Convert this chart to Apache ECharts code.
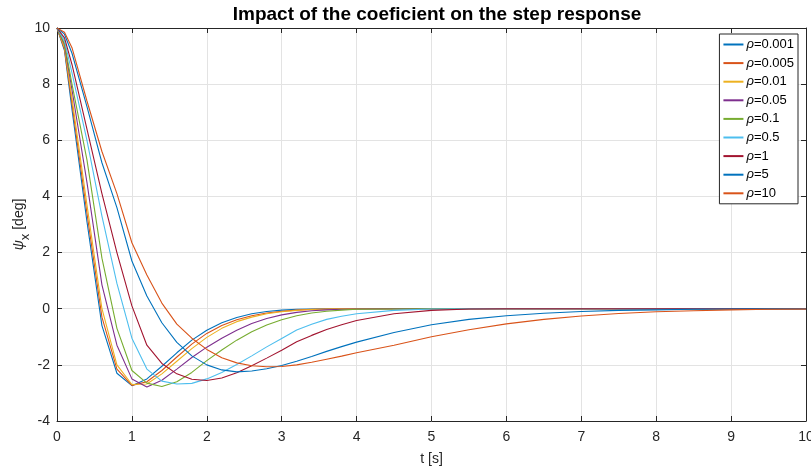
<!DOCTYPE html>
<html>
<head>
<meta charset="utf-8">
<script src="https://cdn.jsdelivr.net/npm/echarts/dist/echarts.min.js"></script>
<style>html,body{margin:0;padding:0;background:#fff}#c{width:811px;height:474px}</style>
</head>
<body>
<div id="c"></div>
<script>
// time samples [s]
const t = [0,0.1,0.2,0.4,0.6,0.8,1.0,1.2,1.4,1.6,1.8,2.0,2.2,2.4,2.6,2.8,3.0,3.2,3.4,3.6,3.8,4.0,
           4.5,5,5.5,6,6.5,7,7.5,8,8.5,9,9.5,10];
const names = ['ρ=0.001','ρ=0.005','ρ=0.01','ρ=0.05','ρ=0.1','ρ=0.5','ρ=1','ρ=5','ρ=10'];
const r0001 = [10,9.2,7.1,3.1,-0.6,-2.3,-2.74,-2.5,-2.05,-1.57,-1.12,-0.77,-0.5,-0.31,-0.18,-0.1,-0.05,-0.02,-0.01,0,0,0,
               0,0,0,0,0,0,0,0,0,0,0,0];
const r0005 = [10,9.25,7.3,3.4,-0.3,-2.15,-2.73,-2.6,-2.2,-1.72,-1.26,-0.88,-0.6,-0.39,-0.25,-0.15,-0.09,-0.05,-0.02,-0.01,0,0,
               0,0,0,0,0,0,0,0,0,0,0,0];
const r001  = [10,9.3,7.5,3.7,0.0,-2.0,-2.7,-2.68,-2.32,-1.87,-1.42,-1.02,-0.7,-0.46,-0.3,-0.18,-0.11,-0.06,-0.03,-0.01,0,0,
               0,0,0,0,0,0,0,0,0,0,0,0];
const r005  = [10,9.4,7.8,4.5,0.85,-1.3,-2.5,-2.79,-2.55,-2.15,-1.74,-1.37,-1.05,-0.77,-0.53,-0.35,-0.22,-0.13,-0.07,-0.04,-0.02,-0.01,
               0,0,0,0,0,0,0,0,0,0,0,0];
const r01   = [10,9.45,8.0,5.3,1.8,-0.7,-2.2,-2.65,-2.77,-2.6,-2.27,-1.85,-1.47,-1.12,-0.82,-0.58,-0.39,-0.25,-0.15,-0.09,-0.05,-0.02,
               -0.01,0,0,0,0,0,0,0,0,0,0,0];
const r05   = [10,9.55,8.4,6.0,3.3,0.9,-1.05,-2.15,-2.58,-2.68,-2.66,-2.5,-2.27,-1.99,-1.68,-1.36,-1.06,-0.76,-0.55,-0.38,-0.27,-0.18,
               -0.06,-0.01,0,0,0,0,0,0,0,0,0,0];
const r1    = [10,9.65,8.7,6.4,4.1,2.0,0.1,-1.3,-1.95,-2.32,-2.51,-2.56,-2.47,-2.28,-2.03,-1.76,-1.48,-1.18,-0.95,-0.74,-0.57,-0.42,
               -0.18,-0.06,-0.01,0,0,0,0,0,0,0,0,0];
const r5    = [10,9.78,9.1,7.2,5.2,3.6,1.7,0.45,-0.5,-1.2,-1.68,-2.0,-2.18,-2.25,-2.22,-2.14,-2.02,-1.87,-1.7,-1.52,-1.35,-1.19,
               -0.85,-0.57,-0.38,-0.25,-0.16,-0.1,-0.06,-0.04,-0.02,-0.01,0,0];
const r10   = [10,9.85,9.3,7.4,5.6,4.1,2.35,1.2,0.2,-0.55,-1.05,-1.45,-1.75,-1.93,-2.03,-2.07,-2.06,-2.0,-1.91,-1.8,-1.69,-1.57,
               -1.3,-1.0,-0.75,-0.54,-0.38,-0.26,-0.17,-0.11,-0.07,-0.04,-0.02,-0.01];
const values = [r0001,r0005,r001,r005,r01,r05,r1,r5,r10];
const colors = ['#0072BD','#D95319','#EDB120','#7E2F8E','#77AC30','#4DBEEE','#A2142F','#0072BD','#D95319'];

const FONT = 'Liberation Sans, Arial, Helvetica, sans-serif';
const axisCol = '#262626';
const chart = echarts.init(document.getElementById('c'), null, {renderer:'canvas'});

const series = names.map((n,i)=>({
  name: n, type: 'line', xAxisIndex: 0, yAxisIndex: 0,
  data: t.map((x,k)=>[x, values[i][k]]),
  showSymbol: false, symbol: 'none',
  lineStyle: {color: colors[i], width: 1.1},
  itemStyle: {color: colors[i]},
  z: 3 + i
}));

const xCommon = {type:'value', min:0, max:10, interval:1};
const yCommon = {type:'value', min:-4, max:10, interval:2};

chart.setOption({
  animation: false,
  backgroundColor: '#fff',
  title: {
    text: 'Impact of the coeficient on the step response',
    left: 432, top: 0, textAlign: 'center',
    textStyle: {fontFamily: FONT, fontWeight: 'bold', fontSize: 19, color: '#000'}
  },
  grid: {left: 57, right: 5, top: 28, bottom: 53, containLabel: false, outerBoundsMode: 'none'},
  legend: {
    orient: 'vertical', right: 13, top: 34,
    backgroundColor: '#fff', borderColor: axisCol, borderWidth: 1,
    padding: [4, 4, 4, 4],
    itemWidth: 20, itemHeight: 2, itemGap: 5.6,
    icon: 'rect', selectedMode: false,
    data: names,
    formatter: n => '{i|ρ}{n|' + n.slice(1) + '}',
    textStyle: {
      fontFamily: FONT, fontSize: 13, color: '#000', padding: [0,0,0,-2],
      rich: {
        i: {fontFamily: FONT, fontSize: 13, fontStyle: 'italic', color: '#000'},
        n: {fontFamily: FONT, fontSize: 13, color: '#000'}
      }
    }
  },
  xAxis: [
    Object.assign({}, xCommon, {
      position: 'bottom',
      name: 't [s]', nameLocation: 'middle', nameGap: 31, nameMoveOverlap: false,
      nameTextStyle: {fontFamily: FONT, fontSize: 14, color: axisCol},
      axisLine: {show: true, onZero: false, lineStyle: {color: axisCol, width: 1}},
      axisTick: {show: true, inside: true, length: 5, lineStyle: {color: axisCol}},
      axisLabel: {fontFamily: FONT, fontSize: 14, color: axisCol, margin: 9},
      splitLine: {show: true, lineStyle: {color: '#e3e3e3', width: 1}}
    }),
    Object.assign({}, xCommon, {
      position: 'top',
      axisLine: {show: true, onZero: false, lineStyle: {color: axisCol, width: 1}},
      axisTick: {show: true, inside: true, length: 5, lineStyle: {color: axisCol}},
      axisLabel: {show: false},
      splitLine: {show: false}
    })
  ],
  yAxis: [
    Object.assign({}, yCommon, {
      position: 'left',
      name: '{p|ψ}{s|x}{d| [deg]}', nameLocation: 'middle', nameGap: 25, nameRotate: 90, nameMoveOverlap: false,
      nameTextStyle: {
        fontFamily: FONT, fontSize: 14, color: axisCol,
        rich: {
          p: {fontFamily: FONT, fontSize: 14, fontStyle: 'italic', color: axisCol, lineHeight: 26, verticalAlign: 'middle'},
          s: {fontFamily: FONT, fontSize: 13, color: axisCol, lineHeight: 26, verticalAlign: 'bottom'},
          d: {fontFamily: FONT, fontSize: 14, color: axisCol, lineHeight: 26, verticalAlign: 'middle'}
        }
      },
      axisLine: {show: true, onZero: false, lineStyle: {color: axisCol, width: 1}},
      axisTick: {show: true, inside: true, length: 5, lineStyle: {color: axisCol}},
      axisLabel: {fontFamily: FONT, fontSize: 14, color: axisCol, margin: 7},
      splitLine: {show: true, lineStyle: {color: '#e3e3e3', width: 1}}
    }),
    Object.assign({}, yCommon, {
      position: 'right',
      axisLine: {show: true, onZero: false, lineStyle: {color: axisCol, width: 1}},
      axisTick: {show: true, inside: true, length: 5, lineStyle: {color: axisCol}},
      axisLabel: {show: false},
      splitLine: {show: false}
    })
  ],
  series: series
});
</script>
</body>
</html>
